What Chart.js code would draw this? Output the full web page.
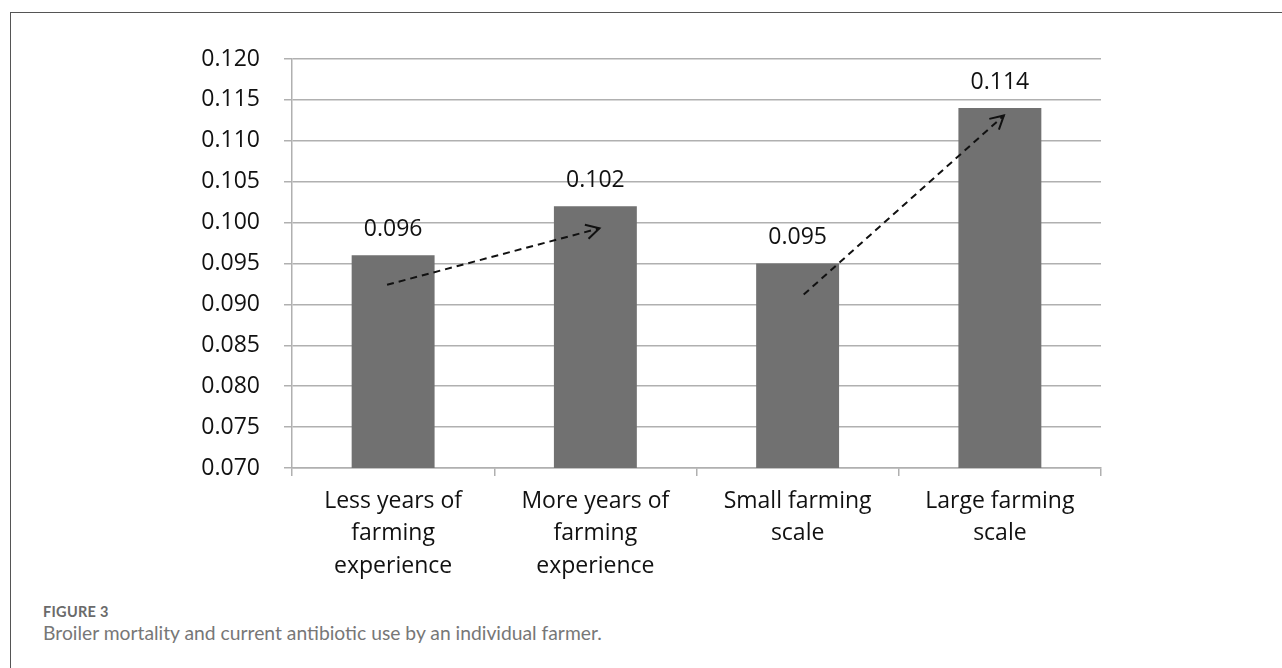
<!DOCTYPE html>
<html>
<head>
<meta charset="utf-8">
<script src="https://cdn.jsdelivr.net/npm/chart.js@4/dist/chart.umd.min.js"></script>
<style>
  html, body { margin: 0; padding: 0; background: #fff; overflow: hidden; }
  body { width: 1282px; height: 668px; position: relative; }
  #frame {
    position: absolute; left: 10px; top: 12px;
    width: 1300px; height: 700px;
    border: 1px solid #555;
  }
  #myChart { position: absolute; left: 0; top: 0; }
  #figLabel {
    position: absolute; left: 43px; top: 603px;
    font: 700 14.5px Lato, sans-serif; color: #6a6a6a; letter-spacing: 0.3px;
  }
  #figCaption {
    position: absolute; left: 43px; top: 621px;
    font: 400 19.3px Lato, sans-serif; color: #777;
  }
</style>
</head>
<body>
<div id="frame"></div>
<canvas id="myChart" width="1282" height="600"></canvas>
<div id="figLabel">FIGURE 3</div>
<div id="figCaption">Broiler mortality and current antibiotic use by an individual farmer.</div>

<script>
// chart data
const categories = [
  ["Less years of", "farming", "experience"],
  ["More years of", "farming", "experience"],
  ["Small farming", "scale"],
  ["Large farming", "scale"]
];
const mortality = [0.096, 0.102, 0.095, 0.114];

// dashed trend arrows: [fromIndex, fromValue, toIndex, toValue]
const trendArrows = [
  [-0.03, 0.0924, 1.02, 0.0993],
  [2.03, 0.0912, 3.02, 0.1131]
];

const textFont = "'Open Sans', sans-serif";
const textSize = 23;

// draws values above bars and the dashed arrows
const annotatePlugin = {
  id: "annotate",
  afterDatasetsDraw(chart) {
    const ctx = chart.ctx;
    const meta = chart.getDatasetMeta(0);
    const xs = chart.scales.x;
    const ys = chart.scales.y;

    ctx.save();
    ctx.fillStyle = "#111";
    ctx.font = textSize + "px " + textFont;
    ctx.textAlign = "center";
    ctx.textBaseline = "middle";
    meta.data.forEach((bar, i) => {
      ctx.fillText(mortality[i].toFixed(3), bar.x, bar.y - 26);
    });

    ctx.strokeStyle = "#111";
    ctx.lineWidth = 2;
    trendArrows.forEach(a => {
      const x1 = xs.getPixelForValue(a[0]);
      const y1 = ys.getPixelForValue(a[1]);
      const x2 = xs.getPixelForValue(a[2]);
      const y2 = ys.getPixelForValue(a[3]);
      ctx.setLineDash([7, 5]);
      ctx.beginPath();
      ctx.moveTo(x1, y1);
      ctx.lineTo(x2, y2);
      ctx.stroke();

      // open arrow head
      const ang = Math.atan2(y2 - y1, x2 - x1);
      const len = 15;
      ctx.setLineDash([]);
      ctx.beginPath();
      ctx.moveTo(x2 - len * Math.cos(ang - 0.5), y2 - len * Math.sin(ang - 0.5));
      ctx.lineTo(x2, y2);
      ctx.lineTo(x2 - len * Math.cos(ang + 0.5), y2 - len * Math.sin(ang + 0.5));
      ctx.stroke();
    });
    ctx.restore();
  }
};

const ctx = document.getElementById("myChart").getContext("2d");
const chart = new Chart(ctx, {
  type: "bar",
  data: {
    labels: categories,
    datasets: [
      {
        data: mortality,
        backgroundColor: "#717171",
        borderWidth: 0,
        barPercentage: 0.82,
        categoryPercentage: 0.5
      }
    ]
  },
  options: {
    responsive: false,
    animation: false,
    devicePixelRatio: 1,
    layout: { padding: { left: 0, right: 181, top: 59, bottom: 0 } },
    plugins: {
      legend: { display: false },
      tooltip: { enabled: false }
    },
    scales: {
      x: {
        afterFit: (scale) => { scale.height = 132; },
        grid: {
          drawOnChartArea: false,
          drawTicks: true,
          tickLength: 8,
          color: "#b0b0b0",
          lineWidth: 1.5
        },
        border: { color: "#b0b0b0", width: 1.5 },
        ticks: {
          color: "#111",
          padding: 9,
          maxRotation: 0,
          font: { family: textFont, size: textSize, lineHeight: 1.41 }
        }
      },
      y: {
        min: 0.07,
        max: 0.12,
        afterFit: (scale) => { scale.width = 292; },
        grid: {
          color: "#b0b0b0",
          lineWidth: 1.5,
          tickLength: 8
        },
        border: { color: "#b0b0b0", width: 1.5 },
        ticks: {
          stepSize: 0.005,
          color: "#111",
          padding: 24,
          font: { family: textFont, size: textSize },
          callback: (v) => Number(v).toFixed(3)
        }
      }
    }
  },
  plugins: [annotatePlugin]
});
</script>
</body>
</html>
